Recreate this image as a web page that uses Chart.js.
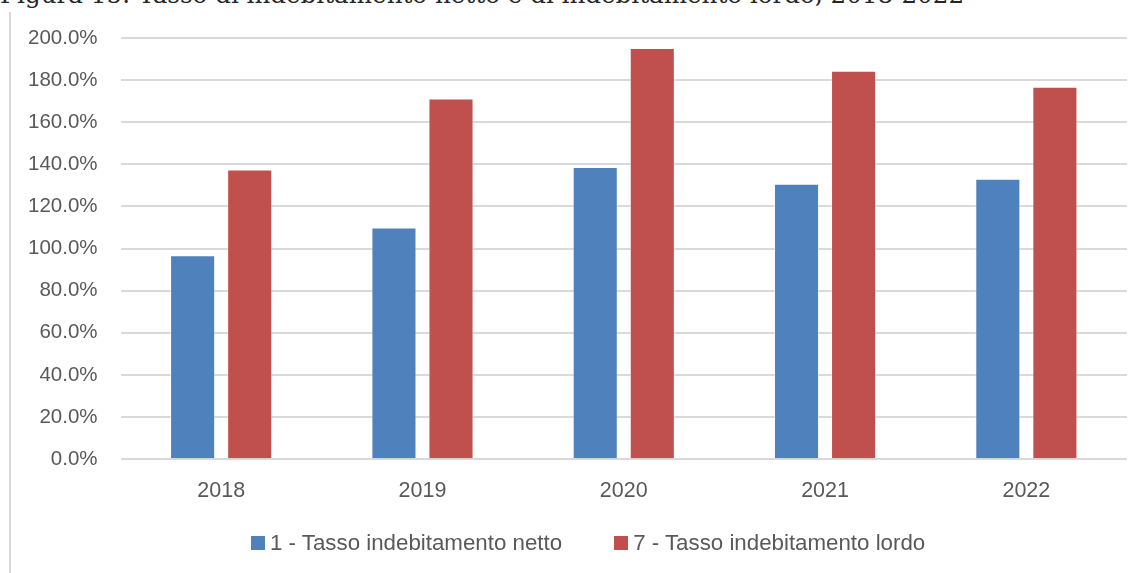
<!DOCTYPE html>
<html>
<head>
<meta charset="utf-8">
<script src="https://cdn.jsdelivr.net/npm/chart.js@4.4.1/dist/chart.umd.min.js"></script>
<style>
  html, body { margin: 0; padding: 0; background: #fff; overflow: hidden; }
  #wrap { position: relative; width: 1144px; height: 573px; overflow: hidden; }
  #title { position: absolute; left: 0; top: -18px; font-family: "DejaVu Serif", serif; font-size: 24.6px; line-height: 25px; color: #262626; white-space: nowrap; }
  #frame { position: absolute; left: 9px; top: 12px; width: 2px; height: 600px; background: #d9d9d9; }
  #c { position: absolute; left: 0; top: 0; }
  #legend { position: absolute; left: 251px; top: 529px; height: 28px; display: flex; align-items: center; font-family: "Liberation Sans", Arial, sans-serif; font-size: 22.3px; color: #595959; white-space: nowrap; }
  .item { display: flex; align-items: center; }
  .box { width: 14px; height: 14px; margin-right: 5px; }
</style>
</head>
<body>
<div id="wrap">
  <div id="title">Figura 15: Tasso di indebitamento netto e di indebitamento lordo, 2018-2022</div>
  <div id="frame"></div>
  <canvas id="c" width="1144" height="573"></canvas>
  <div id="legend"></div>
</div>
<script>
const categories = ["2018", "2019", "2020", "2021", "2022"];
const seriesNames = ["1 - Tasso indebitamento netto", "7 - Tasso indebitamento lordo"];
const nettoValues = [96.8, 110.0, 138.7, 130.8, 133.2];
const lordoValues = [137.6, 171.3, 195.2, 184.4, 176.8];
const yTicks = [0, 20, 40, 60, 80, 100, 120, 140, 160, 180, 200];
const seriesColors = ["#4F81BD", "#C0504D"];

const FONT = "'Liberation Sans', Arial, sans-serif";
const TEXT = "#595959";

const chart = new Chart(document.getElementById("c"), {
  type: "bar",
  data: {
    labels: categories,
    datasets: [
      { label: seriesNames[0], data: nettoValues, backgroundColor: seriesColors[0], borderColor: "rgba(255,255,255,0.45)", borderWidth: 1, categoryPercentage: 0.567, barPercentage: 0.79 },
      { label: seriesNames[1], data: lordoValues, backgroundColor: seriesColors[1], borderColor: "rgba(255,255,255,0.45)", borderWidth: 1, categoryPercentage: 0.567, barPercentage: 0.79 }
    ]
  },
  options: {
    responsive: false,
    animation: false,
    devicePixelRatio: 1,
    layout: { padding: { top: 38, left: 5, right: 17, bottom: 58 } },
    plugins: {
      tooltip: { enabled: false },
      legend: { display: false }
    },
    scales: {
      x: {
        grid: { display: false },
        border: { display: false },
        ticks: { font: { family: FONT, size: 21.5 }, color: TEXT, padding: 11 }
      },
      y: {
        min: 0,
        max: 200,
        afterBuildTicks: (axis) => { axis.ticks = yTicks.map(v => ({ value: v })); },
        grid: { color: "#d9d9d9", lineWidth: 2, drawTicks: false },
        border: { display: false },
        ticks: {
          font: { family: FONT, size: 20.5 },
          color: TEXT,
          padding: 23,
          callback: (v) => v.toFixed(1) + "%"
        }
      }
    }
  }
});

// HTML legend built from the datasets
const legendEl = document.getElementById("legend");
chart.data.datasets.forEach((ds, i) => {
  const item = document.createElement("div");
  item.className = "item";
  if (i > 0) item.style.marginLeft = "52px";
  const box = document.createElement("div");
  box.className = "box";
  box.style.background = ds.backgroundColor;
  const txt = document.createElement("span");
  txt.textContent = ds.label;
  item.appendChild(box);
  item.appendChild(txt);
  legendEl.appendChild(item);
});
</script>
</body>
</html>
